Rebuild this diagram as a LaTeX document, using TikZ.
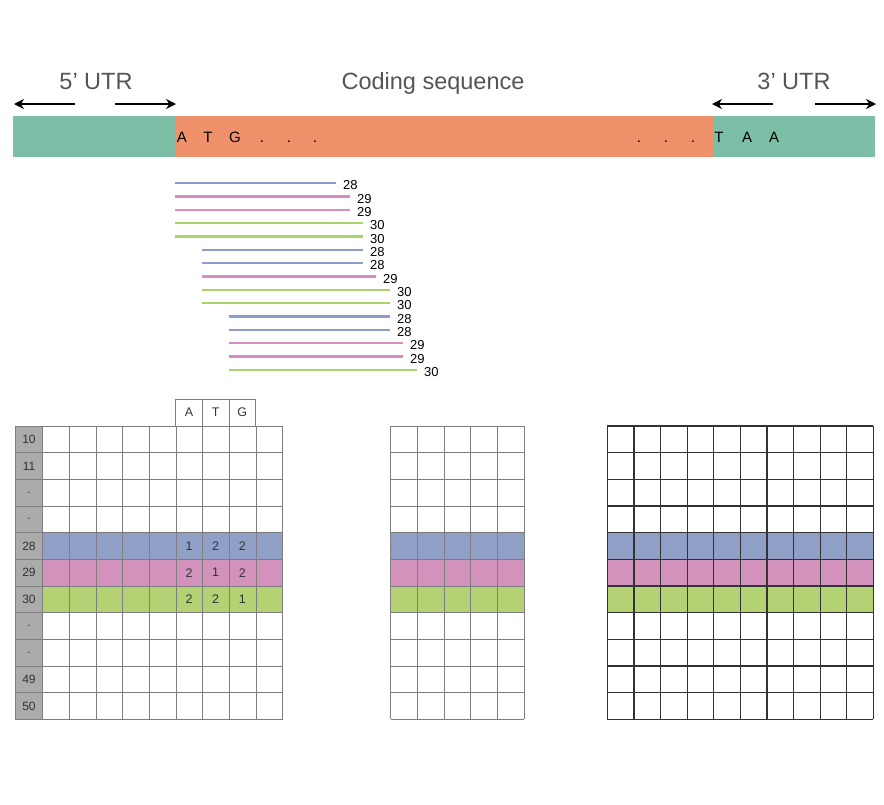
\documentclass[tikz,border=0pt]{standalone}
\usepackage{fontspec}
\setmainfont{Liberation Sans}
\usetikzlibrary{arrows.meta}
\definecolor{utrgreen}{HTML}{7DBFA6}
\definecolor{cdsorange}{HTML}{EF916B}
\definecolor{lblue}{HTML}{8E9DC8}
\definecolor{lpink}{HTML}{D98CC0}
\definecolor{lgreen}{HTML}{A8D46C}
\definecolor{fblue}{HTML}{909FC6}
\definecolor{fpink}{HTML}{D292BC}
\definecolor{fgreen}{HTML}{B4D274}
\definecolor{hgray}{HTML}{ABABAB}
\definecolor{gridg}{HTML}{7E7E7E}
\definecolor{griddark}{HTML}{333333}
\definecolor{titlegray}{HTML}{555555}
\definecolor{celltext}{HTML}{333333}
\tikzset{
  titletext/.style={font=\fontsize{23.5}{28}\selectfont, text=titlegray, inner sep=0pt, anchor=base},
  seqlet/.style={font=\fontsize{15}{18}\selectfont, text=black, inner sep=0pt, anchor=base},
  arr/.style={line width=1.8pt, -{Stealth[length=10pt,width=10pt]}},
  seqline/.style={line width=2.3pt},
  lenlbl/.style={font=\fontsize{13}{15}\selectfont, text=black, inner sep=0pt, anchor=west},
  gridline/.style={draw=gridg, line width=0.8pt},
  darkgrid/.style={draw=griddark, line width=1.2pt},
  rowlbl/.style={font=\fontsize{12}{14}\selectfont, text=celltext, inner sep=0pt},
  celllbl/.style={font=\fontsize{12.5}{14}\selectfont, text=celltext, inner sep=0pt}
}
\begin{document}
\begin{tikzpicture}[x=1pt,y=-1pt]
\useasboundingbox (0,0) rectangle (884,804);
\fill[white] (0,0) rectangle (884,804);

% titles
\node[titletext] (t5) at (96,89) {5’ UTR};
\node[titletext] (tc) at (433,89) {Coding sequence};
\node[titletext] (t3) at (794,89) {3’ UTR};

% arrows
\coordinate (a1s) at (75,104);  \coordinate (a1e) at (14,104);
\coordinate (a2s) at (115,104); \coordinate (a2e) at (176,104);
\coordinate (a3s) at (773,104); \coordinate (a3e) at (712,104);
\coordinate (a4s) at (815,104); \coordinate (a4e) at (876,104);
\draw[arr] (a1s) -- (a1e);
\draw[arr] (a2s) -- (a2e);
\draw[arr] (a3s) -- (a3e);
\draw[arr] (a4s) -- (a4e);

% bar
\fill[utrgreen] (13,115.5) rectangle (175,157);
\fill[cdsorange] (175,115.5) rectangle (713,157);
\fill[utrgreen] (713,115.5) rectangle (875,157);

\foreach \t/\x [count=\k] in {A/182,T/208,G/235,./262,./289,./315}
  \node[seqlet] (cl\k) at (\x,142.5) {\t};
\foreach \t/\x [count=\k] in {./639,./666,./693,T/719,A/747,A/774}
  \node[seqlet] (cr\k) at (\x,142.5) {\t};

% sequence reads
\foreach \k/\xa/\xb/\c/\t/\y in {
  1/175/336/lblue/28/183,
  2/175/350/lpink/29/196.5,
  3/175/350/lpink/29/210,
  4/175/363/lgreen/30/223,
  5/175/363/lgreen/30/236.5,
  6/202/363/lblue/28/250,
  7/202/363/lblue/28/263,
  8/202/376/lpink/29/276.5,
  9/202/390/lgreen/30/290,
  10/202/390/lgreen/30/303,
  11/229/390/lblue/28/316.5,
  12/229/390/lblue/28/330,
  13/229/403/lpink/29/343,
  14/229/403/lpink/29/356.5,
  15/229/417/lgreen/30/370}{
  \coordinate (rs\k) at (\xa,\y);
  \coordinate (re\k) at (\xb,\y);
  \draw[seqline, draw=\c] (rs\k) -- (re\k);
  \node[lenlbl] (rl\k) at ({\xb+7},{\y+2.5}) {\t};
}

% ---------- left table ----------
\def\rh{26.667}
\fill[hgray] (15,426) rectangle (42.67,719.33);
\fill[fblue] (42.67,532.67) rectangle (282.67,559.33);
\fill[fpink] (42.67,559.33) rectangle (282.67,586);
\fill[fgreen] (42.67,586) rectangle (282.67,612.67);
\foreach \i in {0,...,11}
  \draw[gridline] (15,{426+\i*\rh}) -- (282.67,{426+\i*\rh});
\draw[gridline] (15,426) -- (15,719.33);
\foreach \j in {0,...,9}
  \draw[gridline] ({42.67+\j*\rh},426) -- ({42.67+\j*\rh},719.33);
\draw[gridline] (175.67,399) rectangle (255.67,426);
\draw[gridline] (202.33,399) -- (202.33,426);
\draw[gridline] (229,399) -- (229,426);
\node[celllbl] (hA) at (189,412.5) {A};
\node[celllbl] (hT) at (215.67,412.5) {T};
\node[celllbl] (hG) at (242.33,412.5) {G};

\foreach \t [count=\k] in {10,11,.,.,28,29,30,.,.,49,50}
  \node[rowlbl] (rh\k) at (29,{426+(\k-0.5)*\rh}) {\t};

\foreach \a/\b/\c [count=\k from 5] in {1/2/2,2/1/2,2/2/1}{
  \node[celllbl] (n\k a) at (189,{426+(\k-0.5)*\rh}) {\a};
  \node[celllbl] (n\k b) at (215.67,{426+(\k-0.5)*\rh}) {\b};
  \node[celllbl] (n\k c) at (242.33,{426+(\k-0.5)*\rh}) {\c};
}

% ---------- middle table ----------
\fill[fblue] (390.67,532.67) rectangle (524,559.33);
\fill[fpink] (390.67,559.33) rectangle (524,586);
\fill[fgreen] (390.67,586) rectangle (524,612.67);
\foreach \i in {0,...,11}
  \draw[gridline] (390.67,{426+\i*\rh}) -- (524,{426+\i*\rh});
\foreach \j in {0,...,5}
  \draw[gridline] ({390.67+\j*\rh},426) -- ({390.67+\j*\rh},719.33);

% ---------- right table ----------
\fill[fblue] (607.33,532.67) rectangle (873.33,559.33);
\fill[fpink] (607.33,559.33) rectangle (873.33,586);
\fill[fgreen] (607.33,586) rectangle (873.33,612.67);
\foreach \i in {0,...,11}
  \draw[darkgrid] (607.33,{426+\i*\rh}) -- (873.33,{426+\i*\rh});
\foreach \j in {0,...,10}
  \draw[darkgrid] ({607.33+\j*26.6},426) -- ({607.33+\j*26.6},719.33);
\end{tikzpicture}
\end{document}
